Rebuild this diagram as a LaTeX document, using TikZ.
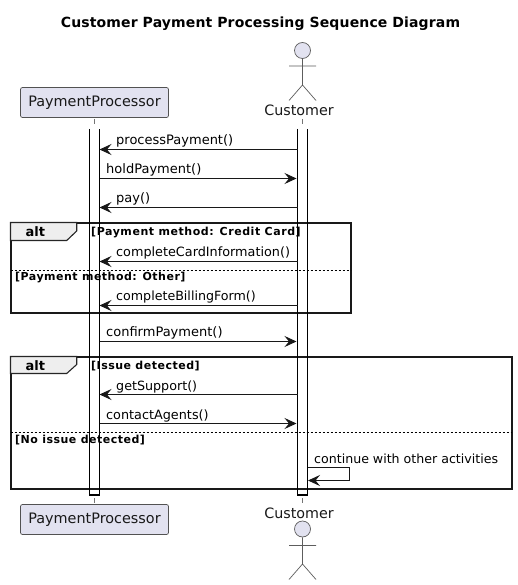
\documentclass[tikz,border=0pt]{standalone}
\usepackage{fontspec}
\setmainfont{DejaVu Sans}
\newfontfamily\guardfont[LetterSpace=4.5]{DejaVu Sans}
\newfontfamily\guardwide[LetterSpace=5.1]{DejaVu Sans}
\newfontfamily\titlefont[LetterSpace=1]{DejaVu Sans}
\usetikzlibrary{arrows.meta}
\definecolor{line}{HTML}{181818}
\definecolor{partfill}{HTML}{E2E2F0}
\definecolor{tabfill}{HTML}{EEEEEE}
\newcommand{\fs}[1]{\fontsize{#1}{#1}\selectfont}
\tikzset{
  x=1pt,y=-1pt,
  part/.style={draw=line!75,line width=0.7pt,fill=partfill,rounded corners=2pt,minimum width=148pt,minimum height=30pt,inner sep=0pt,font=\fs{14.4},text=black!90},
  actorline/.style={draw=line!70,line width=0.7pt},
  actorhead/.style={circle,draw=line!70,line width=0.7pt,fill=partfill,minimum size=16pt,inner sep=0pt},
  actorname/.style={inner sep=0pt,font=\fs{14.3},text=black!90},
  life/.style={draw=line!60,line width=0.7pt},
  bar/.style={draw=black,line width=1.1pt},
  msg/.style={draw=line,line width=1pt,-{Stealth[length=12pt,width=11pt,inset=4.5pt]}},
  msgtext/.style={inner sep=0pt,anchor=base west,font=\fs{13},text=black},
  frame/.style={draw=black!90,line width=2pt},
  tabshape/.style={draw=black!85,line width=1.1pt,fill=tabfill},
  altname/.style={inner sep=0pt,font=\bfseries\fs{13},text=black},
  guard/.style={inner sep=0pt,anchor=base west,font=\guardfont\bfseries\fs{11},text=black},
  sep/.style={draw=black,line width=1pt,dash pattern=on 2pt off 2pt},
}
\begin{document}
\begin{tikzpicture}
\useasboundingbox (0,0) rectangle (517,585);
\fill[white] (0,0) rectangle (517,585);
\node[inner sep=0pt,anchor=base,font=\titlefont\bfseries\fs{14}] (title) at (260.5,28) {Customer Payment Processing Sequence Diagram};

% anchors on the activation bars
\foreach \n/\y in {a/149.5,c/207.5,d/261.5,e/305.5,g/394.5}{
  \coordinate (p\n) at (99.5,\y);
  \coordinate (c\n) at (297.5,\y);
}
\foreach \n/\y in {b/178.5,f/341.5,h/423.5}{
  \coordinate (p\n) at (99.5,\y);
  \coordinate (c\n) at (296.5,\y);
}
\coordinate (sa) at (307.5,467.5);
\coordinate (sb) at (349.5,467.5);
\coordinate (sc) at (349.5,480.5);
\coordinate (sd) at (308,480.5);

% participants
\node[part] (ptop) at (94.5,102.5) {\raisebox{-0.7pt}{PaymentProcessor}};
\node[part] (pbot) at (94.5,519.5) {\raisebox{-0.7pt}{PaymentProcessor}};
\node[actorhead] (headtop) at (302.5,50.5) {};
\node[actorhead] (headbot) at (302.5,529) {};
\node[actorname] (ctop) at (299,110.5) {Customer};
\node[actorname] (cbot) at (299,513) {Customer};
\coordinate (hiptop) at (302.5,85);
\coordinate (hipbot) at (302.5,564);
\draw[actorline] (headtop.south) -- (hiptop) (289,66) -- (316,66) (289,100.5) -- (hiptop) -- (316,100.5);
\draw[actorline] (headbot.south) -- (hipbot) (289,545.5) -- (316,545.5) (289,579.5) -- (hipbot) -- (316,579.5);

% lifelines outside the bars
\coordinate (l1a) at (94.5,119); \coordinate (l1b) at (94.5,124);
\coordinate (l2a) at (94.5,498); \coordinate (l2b) at (94.5,503);
\coordinate (l3a) at (302.5,119); \coordinate (l3b) at (302.5,124);
\coordinate (l4a) at (302.5,498); \coordinate (l4b) at (302.5,503);
\draw[life] (l1a) -- (l1b);
\draw[life] (l2a) -- (l2b);
\draw[life] (l3a) -- (l3b);
\draw[life] (l4a) -- (l4b);

% frames
\draw[frame] (10.5,222.5) rectangle (350.5,313);
\draw[tabshape] (10.5,222.5) -- (76.7,222.5) -- (76.7,231) -- (66.7,240.5) -- (10.5,240.5) -- cycle;
\node[altname,anchor=base] (alt1) at (35.3,236) {alt};
\draw[sep] (10.5,270.5) -- (350.5,270.5);
\draw[frame] (10.5,356.5) rectangle (511.5,488.5);
\draw[tabshape] (10.5,356.5) -- (76.7,356.5) -- (76.7,364.5) -- (66.7,373.5) -- (10.5,373.5) -- cycle;
\node[altname,anchor=base] (alt2) at (35.3,370) {alt};
\draw[sep] (10.5,432.5) -- (511.5,432.5);

\node[guard,font=\guardwide\bfseries\fs{11}] (g1) at (91,235) {[Payment method: Credit Card]};
\node[guard] (g2) at (15,280) {[Payment method: Other]};
\node[guard] (g3) at (91,369) {[Issue detected]};
\node[guard] (g4) at (15,443) {[No issue detected]};

% activation bars (open at the top)
\draw[bar] (89.5,129) -- (89.5,495) -- (99.5,495) -- (99.5,129);
\draw[bar] (297.5,129) -- (297.5,495) -- (307.5,495) -- (307.5,129);

% messages
\draw[msg] (ca) -- (pa);
\draw[msg] (pb) -- (cb);
\draw[msg] (cc) -- (pc);
\draw[msg] (cd) -- (pd);
\draw[msg] (ce) -- (pe);
\draw[msg] (pf) -- (cf);
\draw[msg] (cg) -- (pg);
\draw[msg] (ph) -- (ch);
\draw[msg] (sa) -- (sb) -- (sc) -- (sd);

\node[msgtext] (m1) at (116,145) {\fs{13}processPayment()};
\node[msgtext] (m2) at (106,174) {holdPayment()};
\node[msgtext] (m3) at (116,203) {pay()};
\node[msgtext] (m4) at (116,256.5) {\fs{12.8}completeCardInformation()};
\node[msgtext] (m5) at (116,300.5) {\fs{12.65}completeBillingForm()};
\node[msgtext] (m6) at (106,336.5) {\fs{13}confirmPayment()};
\node[msgtext] (m7) at (116,390) {\fs{12.7}getSupport()};
\node[msgtext] (m8) at (106,419) {\fs{12.8}contactAgents()};
\node[msgtext] (m9) at (314,463) {\fs{12.6}continue with other activities};
\end{tikzpicture}
\end{document}
